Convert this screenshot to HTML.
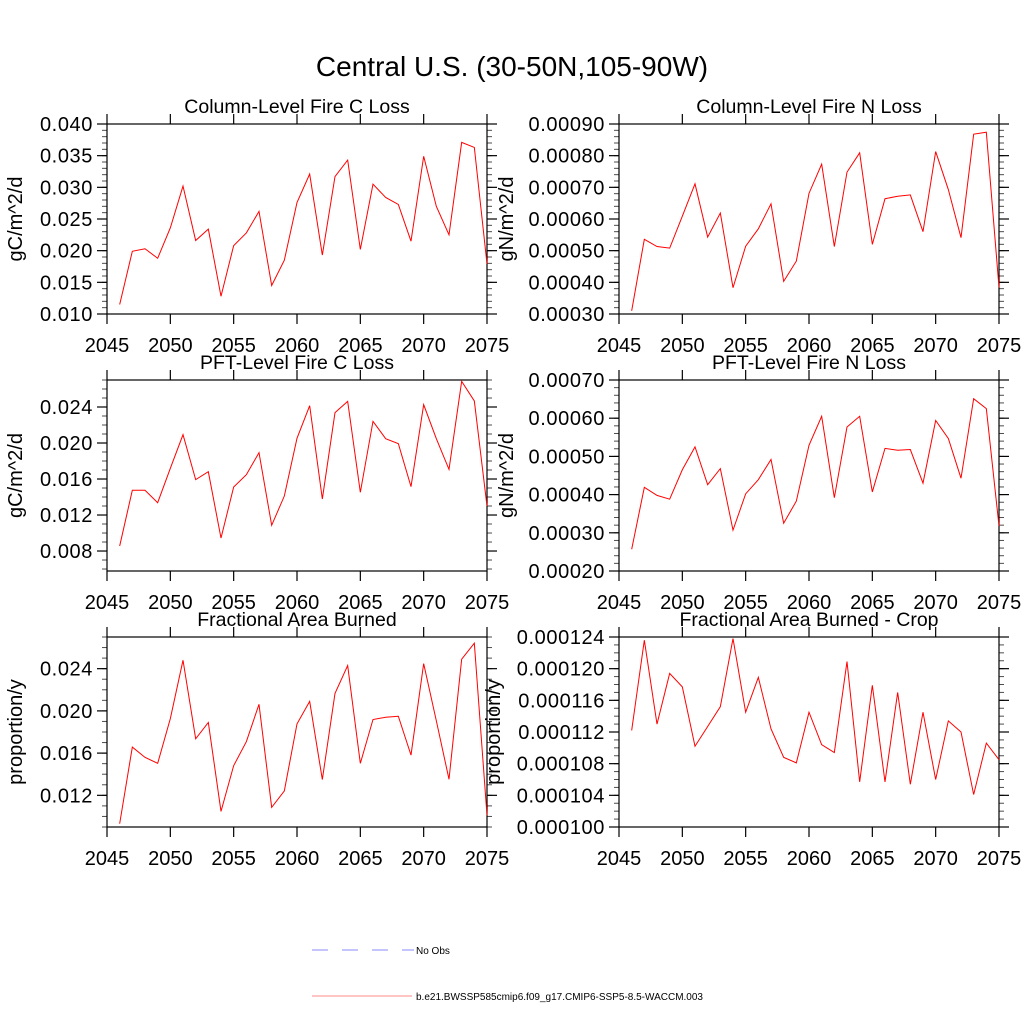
<!DOCTYPE html>
<html><head><meta charset="utf-8"><style>
body{margin:0;background:#fff;}
svg text{font-family:"Liberation Sans",Arial,sans-serif;fill:#000;}
</style></head><body>
<svg id="chart" width="1024" height="1024" viewBox="0 0 1024 1024" xmlns="http://www.w3.org/2000/svg">
<rect width="1024" height="1024" fill="#fff"/>
<text x="512" y="76" font-size="28" text-anchor="middle">Central U.S. (30-50N,105-90W)</text>
<g>
<line x1="312" y1="950" x2="414" y2="950" stroke="#8888ff" stroke-width="1" stroke-dasharray="16,14"/>
<text x="416" y="954" font-size="10">No Obs</text>
<line x1="312" y1="996" x2="412" y2="996" stroke="#ff8888" stroke-width="1"/>
<text x="416" y="1000" font-size="10">b.e21.BWSSP585cmip6.f09_g17.CMIP6-SSP5-8.5-WACCM.003</text>
</g>
</svg>
<script>
const years = [];
for (let y = 2046; y <= 2075; y++) years.push(y);
const xTicks = [2045, 2050, 2055, 2060, 2065, 2070, 2075];

const fireCLoss = [0.0115,0.0199,0.0203,0.0188,0.0236,0.0302,0.0216,0.0234,0.0128,0.0208,0.0228,0.0262,0.0145,0.0185,0.0276,0.0321,0.0193,0.0317,0.0343,0.0202,0.0305,0.0284,0.0273,0.0215,0.0349,0.0270,0.0225,0.0371,0.0363,0.0179];
const fireNLoss = [0.00031,0.000536,0.000513,0.000508,0.000609,0.000711,0.000543,0.000619,0.000383,0.000514,0.000569,0.000648,0.000403,0.000467,0.000681,0.000773,0.000513,0.000748,0.000809,0.00052,0.000664,0.000672,0.000676,0.00056,0.000813,0.000693,0.000541,0.000868,0.000874,0.000384];
const pftCLoss = [0.00856,0.01475,0.01475,0.01337,0.01719,0.02093,0.01593,0.01681,0.00944,0.01511,0.01648,0.01893,0.01086,0.01411,0.02052,0.02415,0.01378,0.02337,0.02463,0.01452,0.02241,0.02048,0.01993,0.01515,0.02426,0.02048,0.01707,0.02685,0.02467,0.0130];
const pftNLoss = [0.000257,0.000419,0.000398,0.000388,0.000465,0.000525,0.000426,0.000468,0.000307,0.000402,0.000439,0.000492,0.000325,0.000383,0.000529,0.000605,0.000392,0.000577,0.000605,0.000407,0.000521,0.000516,0.000518,0.00043,0.000594,0.000547,0.000443,0.000651,0.000625,0.000318];
const areaBurned = [0.00931,0.01657,0.0156,0.01503,0.01927,0.0248,0.01736,0.0189,0.01048,0.01481,0.01708,0.02062,0.01086,0.01242,0.01877,0.0209,0.0135,0.02166,0.0243,0.01503,0.01918,0.0194,0.01949,0.01581,0.02448,0.01906,0.01352,0.0249,0.02641,0.0101];
const areaBurnedCrop = [0.0001122,0.0001236,0.000113,0.0001194,0.0001177,0.0001102,0.0001127,0.0001152,0.0001238,0.0001145,0.0001189,0.0001124,0.0001088,0.0001081,0.0001145,0.0001104,0.0001094,0.0001209,0.0001057,0.0001179,0.0001057,0.000117,0.0001054,0.0001145,0.000106,0.0001134,0.000112,0.0001041,0.0001106,0.0001085];

const ticks1 = ["0.010","0.015","0.020","0.025","0.030","0.035","0.040"];
const ticks2 = ["0.00030","0.00040","0.00050","0.00060","0.00070","0.00080","0.00090"];
const ticks3 = ["0.008","0.012","0.016","0.020","0.024"];
const ticks4 = ["0.00020","0.00030","0.00040","0.00050","0.00060","0.00070"];
const ticks5 = ["0.012","0.016","0.020","0.024"];
const ticks6 = ["0.000100","0.000104","0.000108","0.000112","0.000116","0.000120","0.000124"];

const NS = "http://www.w3.org/2000/svg";
const svg = document.getElementById("chart");
function mk(tag, attrs, parent) {
  const e = document.createElementNS(NS, tag);
  for (const k in attrs) e.setAttribute(k, attrs[k]);
  (parent || svg).appendChild(e);
  return e;
}

function panel(o) {
  const g = mk("g", {});
  
  
  const L = o.x0, R = o.x1, T = o.y0, B = o.y1;
  const xs = v => L + (v - 2045) / 30 * (R - L);
  const ys = v => B - (v - o.ymin) / (o.ymax - o.ymin) * (B - T);
  const t = mk("text", {x: (L + R) / 2, y: T - 11, "font-size": 19.5, "text-anchor": "middle"}, g);
  t.textContent = o.title;
  
  
  const fr = mk("rect", {x: L, y: T, width: R - L, height: B - T, fill: "none", stroke: "#000", "stroke-width": 1.2}, g);
  
  
  xTicks.forEach(v => {
    const X = xs(v);
    mk("line", {x1: X, y1: B, x2: X, y2: B + 10, stroke: "#000", "stroke-width": 1.2}, g);
    mk("line", {x1: X, y1: T, x2: X, y2: T - 10, stroke: "#000", "stroke-width": 1.2}, g);
    const lb = mk("text", {x: X, y: B + 38, "font-size": 20, "text-anchor": "middle"}, g);
    lb.textContent = v;
    
    
  });
  const step = (o.ymax0 - o.ymin0) / (o.ticks.length - 1);
  o.ticks.forEach((s, i) => {
    const v = o.ymin0 + i * step;
    const Y = ys(v);
    mk("line", {x1: L - 10, y1: Y, x2: L, y2: Y, stroke: "#000", "stroke-width": 1.2}, g);
    mk("line", {x1: R, y1: Y, x2: R + 10, y2: Y, stroke: "#000", "stroke-width": 1.2}, g);
    const lb = mk("text", {x: L - 14, y: Y + 7, "font-size": 20, "text-anchor": "end", "letter-spacing": "0.6"}, g);
    lb.textContent = s;
    
    
  });
  const mstep = step / (o.minor + 1);
  for (let v = o.ymin0 - 20 * mstep; v <= o.ymax + 1e-12; v += mstep) {
    if (v < o.ymin - 1e-12) continue;
    const Y = ys(v);
    mk("line", {x1: L - 5, y1: Y, x2: L, y2: Y, stroke: "#000", "stroke-width": 1, "stroke-opacity": 0.7}, g);
    mk("line", {x1: R, y1: Y, x2: R + 5, y2: Y, stroke: "#000", "stroke-width": 1, "stroke-opacity": 0.7}, g);
  }
  const yt = mk("text", {x: 0, y: 0, "font-size": 20, "text-anchor": "middle", transform: `translate(${o.ytx},${(T + B) / 2}) rotate(-90)`}, g);
  yt.textContent = o.ytitle;
  
  
  const pts = years.map((yr, i) => xs(yr).toFixed(2) + "," + ys(o.data[i]).toFixed(2)).join(" ");
  const pl = mk("polyline", {points: pts, fill: "none", stroke: "#ff0000", "stroke-width": 1}, g);
  
  
}

panel({name: "panel-column-fire-c-loss", title: "Column-Level Fire C Loss", ytitle: "gC/m^2/d", ytx: 22, x0: 107, x1: 487, y0: 124, y1: 314, ymin: 0.010, ymax: 0.040, ymin0: 0.010, ymax0: 0.040, ticks: ticks1, minor: 4, data: fireCLoss});
panel({name: "panel-column-fire-n-loss", title: "Column-Level Fire N Loss", ytitle: "gN/m^2/d", ytx: 513, x0: 619, x1: 999, y0: 124, y1: 314, ymin: 0.0003, ymax: 0.0009, ymin0: 0.0003, ymax0: 0.0009, ticks: ticks2, minor: 4, data: fireNLoss});
panel({name: "panel-pft-fire-c-loss", title: "PFT-Level Fire C Loss", ytitle: "gC/m^2/d", ytx: 22, x0: 107, x1: 487, y0: 380, y1: 571, ymin: 0.00578, ymax: 0.02700, ymin0: 0.008, ymax0: 0.024, ticks: ticks3, minor: 3, data: pftCLoss});
panel({name: "panel-pft-fire-n-loss", title: "PFT-Level Fire N Loss", ytitle: "gN/m^2/d", ytx: 513, x0: 619, x1: 999, y0: 380, y1: 571, ymin: 0.0002, ymax: 0.0007, ymin0: 0.0002, ymax0: 0.0007, ticks: ticks4, minor: 4, data: pftNLoss});
panel({name: "panel-fractional-area-burned", title: "Fractional Area Burned", ytitle: "proportion/y", ytx: 22, x0: 107, x1: 487, y0: 637, y1: 827, ymin: 0.009, ymax: 0.027, ymin0: 0.012, ymax0: 0.024, ticks: ticks5, minor: 3, data: areaBurned});
panel({name: "panel-fractional-area-burned-crop", title: "Fractional Area Burned - Crop", ytitle: "proportion/y", ytx: 500, x0: 619, x1: 999, y0: 637, y1: 827, ymin: 0.0001, ymax: 0.000124, ymin0: 0.0001, ymax0: 0.000124, ticks: ticks6, minor: 3, data: areaBurnedCrop});
</script>
</body></html>
